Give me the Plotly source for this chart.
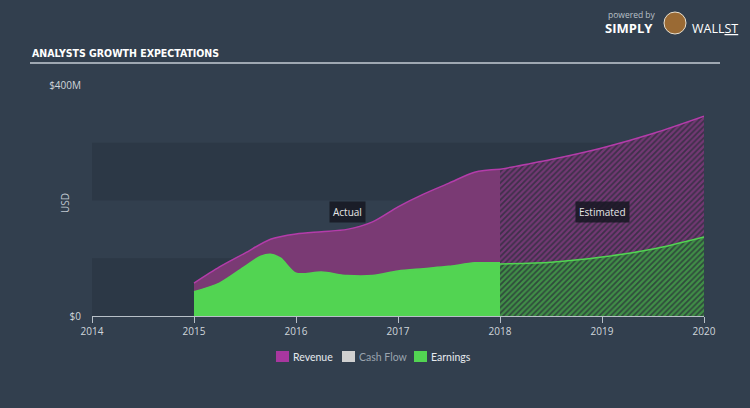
import plotly.graph_objects as go

# ---- data ----
rev_act_x = [2015.0, 2015.25, 2015.5, 2015.75, 2016.0, 2016.25, 2016.5, 2016.75, 2017.0, 2017.25, 2017.5, 2017.75, 2018.0]
rev_act_y = [57, 85, 109, 133, 142, 146, 150, 163, 189, 211, 230, 249, 254]
rev_est_x = [2018.0, 2018.5, 2019.0, 2019.5, 2020.0]
rev_est_y = [254, 271, 291, 316, 346]

earn_act_x = [2015.0, 2015.25, 2015.5, 2015.65, 2015.75, 2015.85, 2016.0, 2016.25, 2016.5, 2016.75, 2017.0, 2017.25, 2017.5, 2017.75, 2018.0]
earn_act_y = [42, 57, 86, 103, 107, 100, 74, 76, 70, 70, 78, 82, 86, 92, 92]
earn_est_x = [2018.0, 2018.5, 2019.0, 2019.5, 2020.0]
earn_est_y = [90, 93, 102, 116, 137]

year_ticks = [2014, 2015, 2016, 2017, 2018, 2019, 2020]
y_ticks = [0, 400]
y_tick_labels = ["$0", "$400M"]
legend_names = ["Revenue", "Cash Flow", "Earnings"]
legend_colors = ["#a8379f", "#d0d0d0", "#52d452"]
legend_text_colors = ["#e6eaee", "#9aa4ae", "#e6eaee"]

BG = "#323f4e"
BAND = "#2c3846"
REV_LINE = "#b43caa"
REV_FILL = "#7a3a74"
EARN = "#52d452"

fig = go.Figure()

# revenue areas
fig.add_trace(go.Scatter(x=rev_act_x, y=rev_act_y, mode="lines", line=dict(color=REV_LINE, width=1.5, shape="spline", smoothing=0.8),
                         fill="tozeroy", fillcolor=REV_FILL, showlegend=False, hoverinfo="skip"))
fig.add_trace(go.Scatter(x=rev_est_x, y=rev_est_y, mode="lines", line=dict(color=REV_LINE, width=1.5, shape="spline", smoothing=0.8),
                         fill="tozeroy", fillcolor="#3d3049",
                         fillpattern=dict(shape="/", fgcolor="#a8409e", bgcolor="#3d3049", size=4, solidity=0.55),
                         showlegend=False, hoverinfo="skip"))
# earnings areas
fig.add_trace(go.Scatter(x=earn_act_x, y=earn_act_y, mode="lines", line=dict(color=EARN, width=1.5, shape="spline", smoothing=0.8),
                         fill="tozeroy", fillcolor=EARN, showlegend=False, hoverinfo="skip"))
fig.add_trace(go.Scatter(x=earn_est_x, y=earn_est_y, mode="lines", line=dict(color=EARN, width=1.5, shape="spline", smoothing=0.8),
                         fill="tozeroy", fillcolor="#2f4a3c",
                         fillpattern=dict(shape="/", fgcolor="#52d452", bgcolor="#2f4a3c", size=4, solidity=0.55),
                         showlegend=False, hoverinfo="skip"))

px2x = lambda px: (px - 92) / 612
py2y = lambda py: (316 - py) / 231

# bands
shapes = []
for y0, y1 in [(0, 100), (200, 300)]:
    shapes.append(dict(type="rect", xref="paper", yref="y", x0=0, x1=1, y0=y0, y1=y1,
                       fillcolor=BAND, line=dict(width=0), layer="below"))
# title underline
shapes.append(dict(type="line", xref="paper", yref="paper", x0=px2x(30), x1=px2x(720), y0=py2y(63), y1=py2y(63),
                   line=dict(color="#c5ccd4", width=1.5)))
# logo icon placeholder
shapes.append(dict(type="circle", xref="paper", yref="paper", x0=px2x(664), x1=px2x(686), y0=py2y(34), y1=py2y(12),
                   fillcolor="#9a6a34", line=dict(color="#e8e0d0", width=1)))

annotations = [
    dict(text="ANALYSTS GROWTH EXPECTATIONS", xref="paper", yref="paper", x=px2x(30), y=py2y(53),
         xanchor="left", yanchor="middle", showarrow=False,
         font=dict(family="DejaVu Sans Condensed", size=10.5, color="#ffffff", weight="bold")),
    dict(text="USD", xref="paper", yref="paper", x=px2x(65), y=py2y(203), textangle=-90,
         xanchor="center", yanchor="middle", showarrow=False, font=dict(family="Open Sans", size=10, color="#c0c8d0")),
    dict(text="Actual", xref="x", yref="y", x=2016.5, y=180, showarrow=False,
         bgcolor="rgba(22,24,34,0.85)", borderpad=3, font=dict(family="Open Sans", size=10, color="#e6e6e6")),
    dict(text="Estimated", xref="x", yref="y", x=2019.0, y=180, showarrow=False,
         bgcolor="rgba(22,24,34,0.85)", borderpad=3, font=dict(family="Open Sans", size=10, color="#e6e6e6")),
    dict(text="powered by", xref="paper", yref="paper", x=px2x(606), y=py2y(14), xanchor="left", yanchor="middle",
         showarrow=False, font=dict(family="Open Sans", size=8.5, color="#b8c0c8")),
    dict(text="<b>SIMPLY</b>", xref="paper", yref="paper", x=px2x(603), y=py2y(28), xanchor="left", yanchor="middle",
         showarrow=False, font=dict(family="Open Sans", size=13, color="#ffffff")),
    dict(text="WALL<u>ST</u>", xref="paper", yref="paper", x=px2x(690), y=py2y(28), xanchor="left", yanchor="middle",
         showarrow=False, font=dict(family="Open Sans", size=12.5, color="#ffffff")),
]

# manual legend
legend_sq_x = [276, 342, 414]
for name, col, tcol, sx in zip(legend_names, legend_colors, legend_text_colors, legend_sq_x):
    shapes.append(dict(type="rect", xref="paper", yref="paper", x0=px2x(sx), x1=px2x(sx + 13),
                       y0=py2y(362), y1=py2y(351), fillcolor=col, line=dict(width=0)))
    annotations.append(dict(text=name, xref="paper", yref="paper", x=px2x(sx + 15), y=py2y(357),
                            xanchor="left", yanchor="middle", showarrow=False,
                            font=dict(family="Lato", size=10.5, color=tcol)))

fig.update_layout(
    width=750, height=408,
    margin=dict(l=92, r=46, t=85, b=92),
    paper_bgcolor=BG, plot_bgcolor=BG,
    shapes=shapes, annotations=annotations,
    showlegend=False,
    xaxis=dict(range=[2014, 2020], tickvals=year_ticks, ticktext=[str(t) for t in year_ticks],
               showgrid=False, zeroline=False, showline=True, linecolor="#b8c0c8", linewidth=1,
               ticks="outside", ticklen=6, tickcolor="#b8c0c8",
               tickfont=dict(family="Open Sans", size=10, color="#d0d6dc")),
    yaxis=dict(range=[0, 400], tickvals=y_ticks, ticktext=y_tick_labels, showgrid=False, zeroline=False,
               showline=False, ticks="", ticklabelstandoff=10,
               tickfont=dict(family="Open Sans", size=10, color="#d0d6dc")),
)

fig.write_html("out.html", config={"displayModeBar": False},
               post_script="document.body.style.margin='0px';")
